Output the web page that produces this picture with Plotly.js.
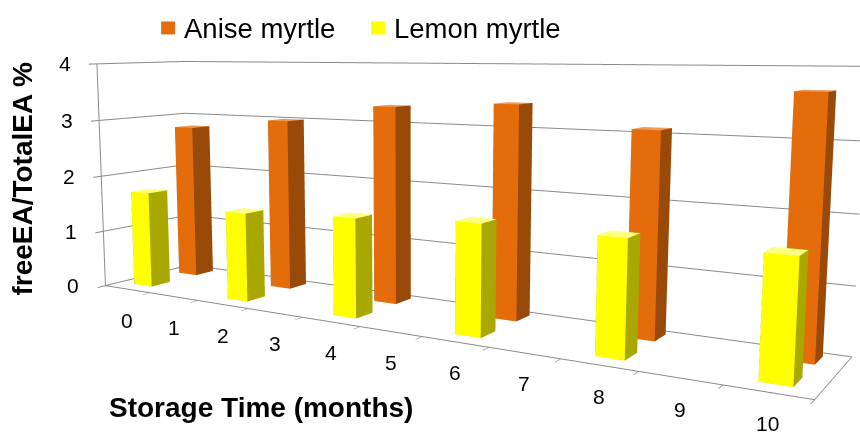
<!DOCTYPE html>
<html><head><meta charset="utf-8">
<script src="https://cdn.plot.ly/plotly-3.0.1.min.js"></script>
<style>
html,body{margin:0;padding:0;background:#fff;overflow:hidden}
#frame{position:relative;width:860px;height:436px;overflow:hidden;background:#fff}
#chart{position:absolute}
</style>
</head><body><div id="frame"><div id="chart"></div></div>
<script>
// ---- data ----
const monthTicks = [0,1,2,3,4,5,6,7,8,9,10];
const sampleMonths = [0,2,4,6,8,10];
const seriesNames = ['Anise myrtle','Lemon myrtle'];
const aniseValues = [2.79,2.99,3.30,3.40,3.09,3.68];
const lemonValues = [1.70,1.51,1.61,1.72,1.71,1.69];
const zTicks = [0,1,2,3,4];

// ---- view geometry (perspective camera matched to the reference) ----
const ymin=-0.5, ymax=1.5;
const FOCAL=1138.6487, PPX=364.9091, PPY=199.1015;
const BAR_HW=0.1944, BAR_HD=0.2116, ROW_FRONT=0.0551, ROW_BACK=1.1137;
const Hd=2*FOCAL*Math.tan(Math.PI/8), Wd=2*Math.max(PPX,860-PPX)+2;
const OFFX=Wd/2-PPX, OFFY=Hd/2-PPY;
const ch=document.getElementById('chart');
ch.style.left=(-OFFX)+'px';ch.style.top=(-OFFY)+'px';ch.style.width=Wd+'px';ch.style.height=Hd+'px';
const px=v=>(v+OFFX)/Wd, py=v=>1-(v+OFFY)/Hd;

const FONT='Liberation Sans, Arial, sans-serif';
const anisePal={front:'#E46C0A',side:'#9A4A08',top:'#F09A55'};
const lemonPal={front:'#FFFF00',side:'#A8A800',top:'#FFFF80'};

function boxMesh(xs,row,values,pal,name){
  const X=[],Y=[],Z=[],I=[],J=[],K=[],FC=[];
  xs.forEach((xc,n)=>{
    const v=values[n],b=X.length;
    const x0=xc-BAR_HW,x1=xc+BAR_HW,y0=row-BAR_HD,y1=row+BAR_HD;
    [[x0,y0,0],[x1,y0,0],[x1,y1,0],[x0,y1,0],[x0,y0,v],[x1,y0,v],[x1,y1,v],[x0,y1,v]].forEach(q=>{X.push(q[0]);Y.push(q[1]);Z.push(q[2]);});
    [[[0,1,5],[0,5,4],pal.front],[[1,2,6],[1,6,5],pal.side],[[4,5,6],[4,6,7],pal.top],
     [[3,2,6],[3,6,7],pal.side],[[0,3,7],[0,7,4],pal.side],[[0,1,2],[0,2,3],pal.side]]
    .forEach(f=>{[f[0],f[1]].forEach(t=>{I.push(b+t[0]);J.push(b+t[1]);K.push(b+t[2]);FC.push(f[2]);});});
  });
  return {type:'mesh3d',name,x:X,y:Y,z:Z,i:I,j:J,k:K,facecolor:FC,flatshading:true,
    lighting:{ambient:1,diffuse:0,specular:0,roughness:1,fresnel:0},hoverinfo:'skip',showscale:false};
}
const traces=[
  boxMesh(sampleMonths,ROW_FRONT,lemonValues,lemonPal,seriesNames[1]),
  boxMesh(sampleMonths,ROW_BACK,aniseValues,anisePal,seriesNames[0])
];

const axBase={showspikes:false,showbackground:false,zeroline:false,title:{text:''},showticklabels:false,
  linecolor:'#8a8a8a',linewidth:2,tickcolor:'#8a8a8a',tickwidth:2};
const boundaries=monthTicks.map(m=>m-0.5).concat([10.5]);
const tickFont={family:FONT,size:21,color:'#000'};
const sceneAnn=monthTicks.map(m=>({x:m,y:ymin,z:0,text:String(m),showarrow:false,yshift:-31,xanchor:'center',yanchor:'middle',font:tickFont}))
 .concat(zTicks.map(v=>({x:-0.5,y:ymin,z:v,text:String(v),showarrow:false,xshift:-24,xanchor:'right',yanchor:'middle',font:tickFont})));

const layout={
  width:Wd,height:Hd,margin:{l:0,r:0,t:0,b:0},paper_bgcolor:'#fff',showlegend:false,
  scene:{
    domain:{x:[0,1],y:[0,1]},aspectmode:'manual',aspectratio:{x:3.0688,y:0.5621,z:1},bgcolor:'#fff',
    xaxis:Object.assign({},axBase,{range:[-0.5,10.5],tickvals:boundaries,showgrid:false,showline:true,ticks:'outside',ticklen:7}),
    yaxis:Object.assign({},axBase,{range:[ymin,ymax],showgrid:false,showline:true,ticks:''}),
    zaxis:Object.assign({},axBase,{range:[0,4],tickvals:zTicks,showgrid:true,gridcolor:'#8a8a8a',gridwidth:2,showline:true,ticks:'outside',ticklen:7}),
    camera:{eye:{x:2.2617,y:-3.8368,z:0.5982},center:{x:-0.4438,y:0.2124,z:-0.0808},up:{x:-0.4117,y:0.6284,z:1},projection:{type:'perspective'}},
    annotations:sceneAnn
  },
  shapes:[
    {type:'rect',xref:'paper',yref:'paper',x0:px(161),x1:px(175),y0:py(35),y1:py(22),fillcolor:anisePal.front,line:{width:0}},
    {type:'rect',xref:'paper',yref:'paper',x0:px(371),x1:px(385),y0:py(35),y1:py(22),fillcolor:lemonPal.front,line:{width:0}}
  ],
  annotations:[
    {text:seriesNames[0],xref:'paper',yref:'paper',x:px(182),y:py(29),xanchor:'left',yanchor:'middle',showarrow:false,font:{family:FONT,size:27.5,color:'#000'}},
    {text:seriesNames[1],xref:'paper',yref:'paper',x:px(392),y:py(29),xanchor:'left',yanchor:'middle',showarrow:false,font:{family:FONT,size:27.5,color:'#000'}},
    {text:'<b>Storage Time (months)</b>',xref:'paper',yref:'paper',x:px(107),y:py(408),xanchor:'left',yanchor:'middle',showarrow:false,font:{family:FONT,size:28,color:'#000'}},
    {text:'<b>freeEA/TotalEA %</b>',xref:'paper',yref:'paper',x:px(22),y:py(180),xanchor:'center',yanchor:'middle',textangle:-90,showarrow:false,font:{family:FONT,size:28,color:'#000'}}
  ]
};
Plotly.newPlot('chart',traces,layout,{displayModeBar:false});
</script></body></html>
